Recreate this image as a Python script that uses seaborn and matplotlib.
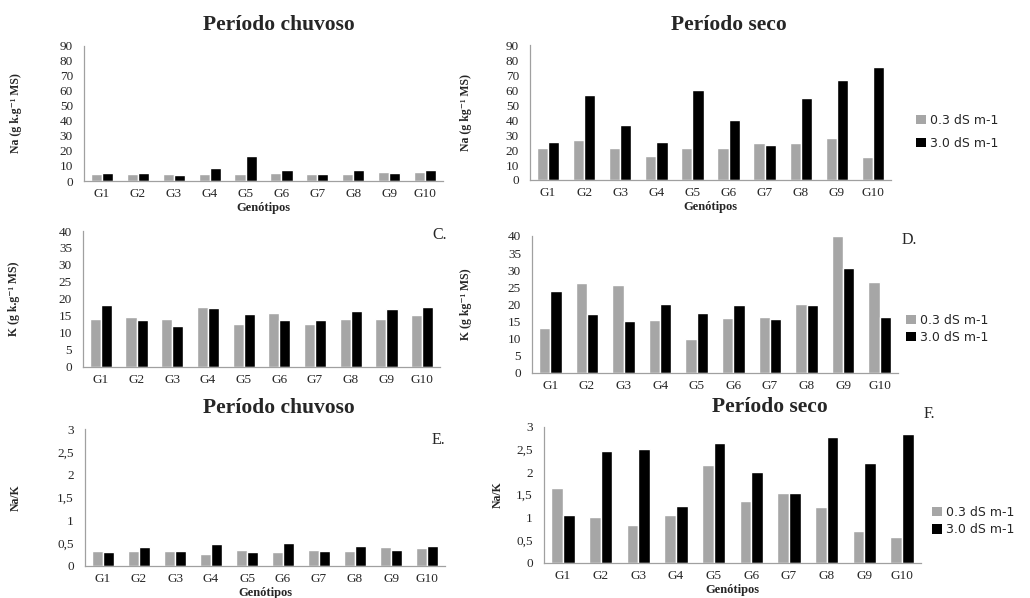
import matplotlib
matplotlib.use("Agg")
import matplotlib.pyplot as plt
from matplotlib.patches import Patch
from matplotlib.ticker import FixedLocator, FuncFormatter
from matplotlib.transforms import blended_transform_factory
import numpy as np
import pandas as pd
import seaborn as sns

# data
genotipos = ["G1", "G2", "G3", "G4", "G5", "G6", "G7", "G8", "G9", "G10"]
tratamentos = ["0.3 dS m-1", "3.0 dS m-1"]

na_chuvoso_03 = [4.6, 4.5, 4.5, 4.6, 4.6, 5.3, 4.6, 4.6, 6.0, 6.1]
na_chuvoso_30 = [5.6, 5.6, 4.0, 8.5, 16.6, 7.1, 4.6, 7.1, 5.6, 7.6]
na_seco_03 = [21.6, 26.7, 21.6, 16.2, 21.6, 21.6, 25.0, 25.0, 28.2, 15.3]
na_seco_30 = [25.1, 56.6, 36.9, 25.1, 60.1, 39.9, 23.2, 55.1, 66.8, 75.4]
k_chuvoso_03 = [14.0, 14.6, 14.0, 17.7, 12.7, 15.8, 12.5, 14.2, 14.2, 15.2]
k_chuvoso_30 = [18.3, 13.9, 12.1, 17.2, 15.5, 13.8, 13.7, 16.5, 16.9, 17.5]
k_seco_03 = [13.0, 26.2, 25.6, 15.3, 10.0, 15.9, 16.3, 20.2, 40.0, 26.4]
k_seco_30 = [23.9, 17.1, 15.1, 20.0, 17.6, 19.8, 15.6, 19.7, 30.7, 16.3]
nak_chuvoso_03 = [0.33, 0.32, 0.33, 0.26, 0.35, 0.30, 0.34, 0.32, 0.41, 0.38]
nak_chuvoso_30 = [0.29, 0.41, 0.32, 0.48, 0.30, 0.50, 0.33, 0.43, 0.34, 0.44]
nak_seco_03 = [1.65, 1.01, 0.84, 1.05, 2.16, 1.37, 1.53, 1.23, 0.69, 0.56]
nak_seco_30 = [1.05, 2.47, 2.51, 1.25, 2.65, 2.01, 1.53, 2.78, 2.20, 2.83]

CINZA = "#A6A6A6"
cores = [CINZA, "#000000"]
EIXO = "#A0A0A0"
W, H = 1030, 598

sns.set_theme(style="white")
plt.rcParams["font.family"] = ["Liberation Serif", "DejaVu Serif"]

fig = plt.figure(figsize=(W / 100, H / 100), dpi=100)


def px_axes(left, top, right, bottom):
    """Axes from a pixel box (y measured from the top)."""
    return fig.add_axes([left / W, 1 - bottom / H, (right - left) / W, (bottom - top) / H])


def virgula(v, pos):
    return f"{v:g}".replace(".", ",")


def painel(ax, v03, v30, ymax, passo, ylabel, ylabel_x, xlabel=True):
    df = pd.DataFrame({
        "genotipo": genotipos * 2,
        "valor": v03 + v30,
        "trat": [tratamentos[0]] * len(v03) + [tratamentos[1]] * len(v30),
    })
    sns.barplot(data=df, x="genotipo", y="valor", hue="trat", palette=cores,
                width=0.62, saturation=1, errorbar=None, legend=False, ax=ax)
    ax.set_xlim(-0.5, len(genotipos) - 0.5)
    ax.set_ylim(0, ymax)
    ax.set_yticks(np.arange(0, ymax + passo / 2, passo))
    ax.yaxis.set_major_formatter(FuncFormatter(virgula))
    ax.xaxis.set_minor_locator(FixedLocator(np.arange(-0.5, len(genotipos), 1)))
    for s in ["top", "right"]:
        ax.spines[s].set_visible(False)
    for s in ["left", "bottom"]:
        ax.spines[s].set_color(EIXO)
        ax.spines[s].set_linewidth(0.9)
    ax.tick_params(axis="y", length=3, width=0.8, color=EIXO, pad=5, labelsize=9.5)
    ax.tick_params(axis="x", which="major", length=0, pad=5, labelsize=9.5)
    ax.tick_params(axis="x", which="minor", length=3.5, width=0.8, color=EIXO, direction="out")
    ax.set_ylabel(ylabel, fontsize=8.5, fontweight="bold")
    ax.yaxis.set_label_coords(ylabel_x / W, 0.5,
                              transform=blended_transform_factory(fig.transFigure, ax.transAxes))
    if xlabel:
        ax.set_xlabel("Genótipos", fontsize=9, fontweight="bold", labelpad=1.5)
    else:
        ax.set_xlabel("")


ax_a = px_axes(84, 45.7, 443, 181)
ax_b = px_axes(530, 45.3, 891, 180)
ax_c = px_axes(83, 231, 440, 366.7)
ax_d = px_axes(532, 236, 898, 372.7)
ax_e = px_axes(85, 429, 445, 565.7)
ax_f = px_axes(544, 426.7, 921, 562.7)

painel(ax_a, na_chuvoso_03, na_chuvoso_30, 90, 10, "Na (g k.g⁻¹ MS)", 22)
painel(ax_b, na_seco_03, na_seco_30, 90, 10, "Na (g kg⁻¹ MS)", 472)
painel(ax_c, k_chuvoso_03, k_chuvoso_30, 40, 5, "K (g k.g⁻¹ MS)", 20, xlabel=False)
painel(ax_d, k_seco_03, k_seco_30, 40, 5, "K (g kg⁻¹ MS)", 472, xlabel=False)
painel(ax_e, nak_chuvoso_03, nak_chuvoso_30, 3, 0.5, "Na/K", 22)
painel(ax_f, nak_seco_03, nak_seco_30, 3, 0.5, "Na/K", 504)

# titles
for x, y, txt in [(279, 25, "Período chuvoso"), (729, 25, "Período seco"),
                  (279, 408, "Período chuvoso"), (770, 407, "Período seco")]:
    fig.text(x / W, 1 - y / H, txt, ha="center", va="center", fontsize=15.5, fontweight="bold")

# panel letters
for x, y, txt in [(432, 235, "C."), (902, 240, "D."), (432, 440, "E."), (924, 414, "F.")]:
    fig.text(x / W, 1 - y / H, txt, ha="left", va="center", fontsize=11.5)

# legends
handles = [Patch(facecolor=c, edgecolor="none") for c in cores]
for ax, x, y, esp in [(ax_b, 916, 114, 0.8), (ax_d, 906, 314, 0.3), (ax_f, 932, 506, 0.35)]:
    ax.legend(handles, tratamentos, loc="upper left",
              bbox_to_anchor=(x / W, 1 - y / H), bbox_transform=fig.transFigure,
              frameon=False, handlelength=0.8, handleheight=0.8, handletextpad=0.35,
              labelspacing=esp, borderaxespad=0, borderpad=0,
              prop={"family": "DejaVu Sans", "size": 9})

fig.savefig("out.png", dpi=100)
